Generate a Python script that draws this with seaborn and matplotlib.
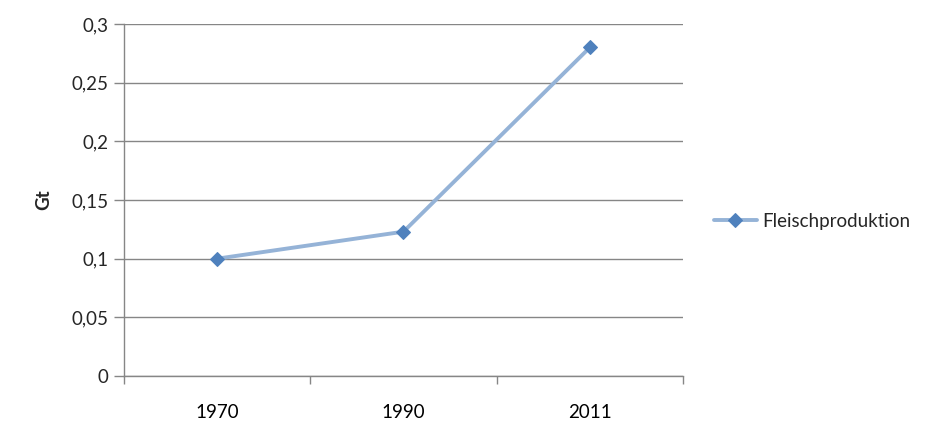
import matplotlib
matplotlib.use("Agg")
import matplotlib.pyplot as plt
import seaborn as sns
import pandas as pd
from matplotlib.ticker import FixedLocator, FuncFormatter

years = ["1970", "1990", "2011"]
values = [0.10, 0.123, 0.28]
series_name = "Fleischproduktion"
y_ticks = [0, 0.05, 0.1, 0.15, 0.2, 0.25, 0.3]

sns.set_style("white")
plt.rcParams["font.family"] = ["Lato", "DejaVu Sans"]
FS = 13.5

df = pd.DataFrame({"idx": range(len(years)), "value": values, "series": series_name})

fig = plt.figure(figsize=(9.33, 4.45), dpi=100)
ax = fig.add_axes([124/933, 1-376/445, (683-124)/933, (376-24)/445])

sns.lineplot(data=df, x="idx", y="value", hue="series", palette=["#95B3D7"],
             linewidth=2.8, marker="D", markersize=7, markerfacecolor="#4F81BD",
             markeredgecolor="#4F81BD", ax=ax, legend=True)

ax.set_xlim(-0.5, len(years) - 0.5)
ax.set_ylim(0, 0.3)
ax.set_yticks(y_ticks)
ax.yaxis.set_major_formatter(FuncFormatter(lambda v, p: ("%g" % v).replace(".", ",")))
ax.set_xticks(range(len(years)))
ax.set_xticklabels(years)
ax.xaxis.set_minor_locator(FixedLocator([i - 0.5 for i in range(len(years) + 1)]))
ax.tick_params(axis="x", which="major", length=0, pad=20, labelsize=FS, colors="#000000")
ax.tick_params(axis="x", which="minor", length=6, width=1, color="#868686", bottom=True)
ax.tick_params(axis="y", which="major", length=7, width=1, color="#868686", left=True, pad=4, labelsize=FS)
ax.grid(axis="y", color="#868686", linewidth=1)
ax.set_axisbelow(True)
for s in ["top", "right"]:
    ax.spines[s].set_visible(False)
for s in ["left", "bottom"]:
    ax.spines[s].set_color("#868686")
    ax.spines[s].set_linewidth(1)
ax.set_xlabel("")
ax.set_ylabel("Gt", fontsize=FS, fontweight="bold", labelpad=14)

h, l = ax.get_legend_handles_labels()
ax.legend(h, l, loc="center left", bbox_to_anchor=(706/933, 1-221/445), bbox_transform=fig.transFigure,
          frameon=False, fontsize=FS, handlelength=2.3, handletextpad=0.3, borderaxespad=0)

fig.savefig("out.png", dpi=100)
